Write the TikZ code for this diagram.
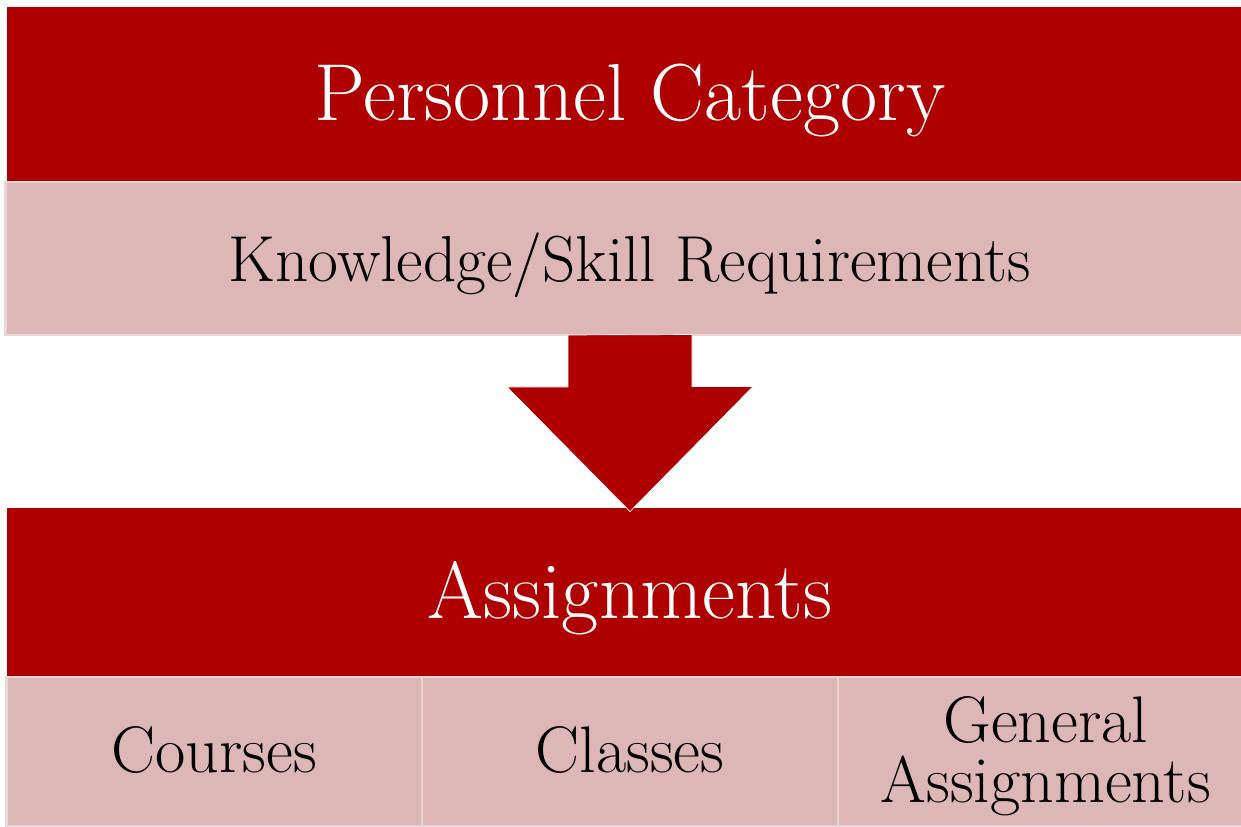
\documentclass[tikz,border=0pt]{standalone}
\usepackage{fontspec}
\usetikzlibrary{positioning}
\definecolor{catred}{RGB}{174,0,0}
\definecolor{reqpink}{RGB}{221,182,182}
\definecolor{reqline}{RGB}{233,214,214}
\begin{document}
\begin{tikzpicture}[x=0.02cm, y=-0.02cm,
        head/.style={rectangle, fill=catred, text=white, inner sep=0pt, outer sep=0pt, text depth=0.25em, minimum width=24.92cm, font=\fontsize{46}{50}\selectfont},
        sub/.style={rectangle, fill=reqpink, draw=reqline, line width=1.6pt, inner sep=0pt, outer sep=0pt, text depth=0.2em, align=center, minimum width=8.32cm, minimum height=2.98cm, font=\fontsize{37.5}{34}\selectfont}]
        \useasboundingbox (0,0) rectangle (1241,826);
        \clip (0,0) rectangle (1241,826);
        \node[head, minimum height=3.51cm] (cat) at (630,94.25) {Personnel Category};
        \node[sub, below=0pt of cat, minimum width=25cm, minimum height=3.06cm, font=\fontsize{37}{40}\selectfont] (req) {Knowledge/Skill Requirements};
        \node[head, minimum height=3.38cm] (asg) at (630,592.5) {Assignments};
        \node[sub, below=0pt of asg] (classes) {Classes};
        \node[sub, left=0pt of classes] (courses) {Courses};
        \node[sub, right=0pt of classes] (general) {General\\Assignments};
        % block arrow
        \filldraw[fill=catred, draw=white, line width=0.4pt] (req.south) ++(-62,0) -- ++(0,52) -- ++(-61,0)
            -- ([yshift=-2pt]asg.north) -- ++(123,-125) -- ++(-61,0) -- ++(0,-52) -- cycle;
    \end{tikzpicture}
\end{document}
